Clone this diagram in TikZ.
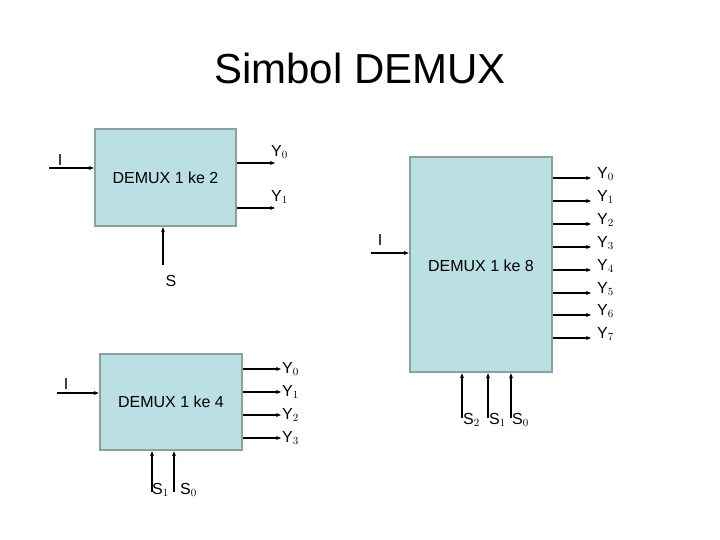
\documentclass[tikz,border=0pt]{standalone}
\usepackage{fontspec}
\setmainfont{Liberation Sans}
\usetikzlibrary{arrows.meta}
\definecolor{boxfill}{RGB}{187,224,227}
\definecolor{boxline}{RGB}{140,160,160}
\begin{document}
\begin{tikzpicture}[x=1pt,y=-1pt,
  blk/.style={draw=boxline,line width=2.5pt,fill=boxfill,inner sep=0pt,font=\fontsize{16}{18}\selectfont},
  sig/.style={-{Stealth[length=5pt,width=4pt]},line width=1.2pt},
  lbl/.style={inner sep=0pt,font=\fontsize{16}{18}\selectfont}]
\useasboundingbox (0,0) rectangle (720,540);
\node[lbl,font=\fontsize{42}{46}\selectfont] (title) at (360,68) {Simbol DEMUX};
% DEMUX 1 ke 2
\node[blk,minimum width=141pt,minimum height=97pt] (b2) at (165.5,177.5) {DEMUX 1 ke 2};
\coordinate (b2i) at (49,168);
\node[lbl] (b2il) at (60,160) {I};
\draw[sig] (b2i) -- (b2.west |- b2i);
\coordinate (b2y0) at (275,163);
\coordinate (b2y1) at (275,208);
\draw[sig] (b2.east |- b2y0) -- (b2y0);
\draw[sig] (b2.east |- b2y1) -- (b2y1);
\node[lbl,anchor=west] (b2y0l) at (271,152) {Y$_{\scriptstyle 0}$};
\node[lbl,anchor=west] (b2y1l) at (271,197) {Y$_{\scriptstyle 1}$};
\coordinate (b2s) at (163,265);
\draw[sig] (b2s) -- (b2.south -| b2s);
\node[lbl] (b2sl) at (171,281) {S};
% DEMUX 1 ke 4
\node[blk,minimum width=142pt,minimum height=96pt] (b4) at (171,402) {DEMUX 1 ke 4};
\coordinate (b4i) at (57,393);
\node[lbl] (b4il) at (66,384) {I};
\draw[sig] (b4i) -- (b4.west |- b4i);
\foreach \k/\y in {0/369,1/392,2/415,3/438}{
  \coordinate (b4y\k) at (281,\y);
  \draw[sig] (b4.east |- b4y\k) -- (b4y\k);
  \node[lbl,anchor=west] (b4y\k l) at (282,\y) {Y$_{\scriptstyle \k}$};
}
\coordinate (b4s1) at (152,492);
\coordinate (b4s0) at (174,492);
\draw[sig] (b4s1) -- (b4.south -| b4s1);
\draw[sig] (b4s0) -- (b4.south -| b4s0);
\node[lbl,anchor=west] (b4s1l) at (152,490) {S$_{\scriptstyle 1}$};
\node[lbl,anchor=west] (b4s0l) at (180,490) {S$_{\scriptstyle 0}$};
% DEMUX 1 ke 8
\node[blk,minimum width=142pt,minimum height=215pt] (b8) at (481,264.5) {};
\node[lbl] (b8t) at (481,266) {DEMUX 1 ke 8};
\coordinate (b8i) at (371,253);
\node[lbl] (b8il) at (380,240) {I};
\draw[sig] (b8i) -- (b8.west |- b8i);
\foreach \k/\y in {0/178,1/201,2/224,3/247,4/270,5/293,6/315,7/338}{
  \coordinate (b8y\k) at (591,\y);
  \draw[sig] (b8.east |- b8y\k) -- (b8y\k);
  \node[lbl,anchor=west] (b8y\k l) at (597,\y-4) {Y$_{\scriptstyle \k}$};
}
\foreach \k/\x in {2/462,1/488,0/511}{
  \coordinate (b8s\k) at (\x,418);
  \draw[sig] (b8s\k) -- (b8.south -| b8s\k);
  \node[lbl,anchor=west] (b8s\k l) at (\x+1,420) {S$_{\scriptstyle \k}$};
}
\end{tikzpicture}
\end{document}
